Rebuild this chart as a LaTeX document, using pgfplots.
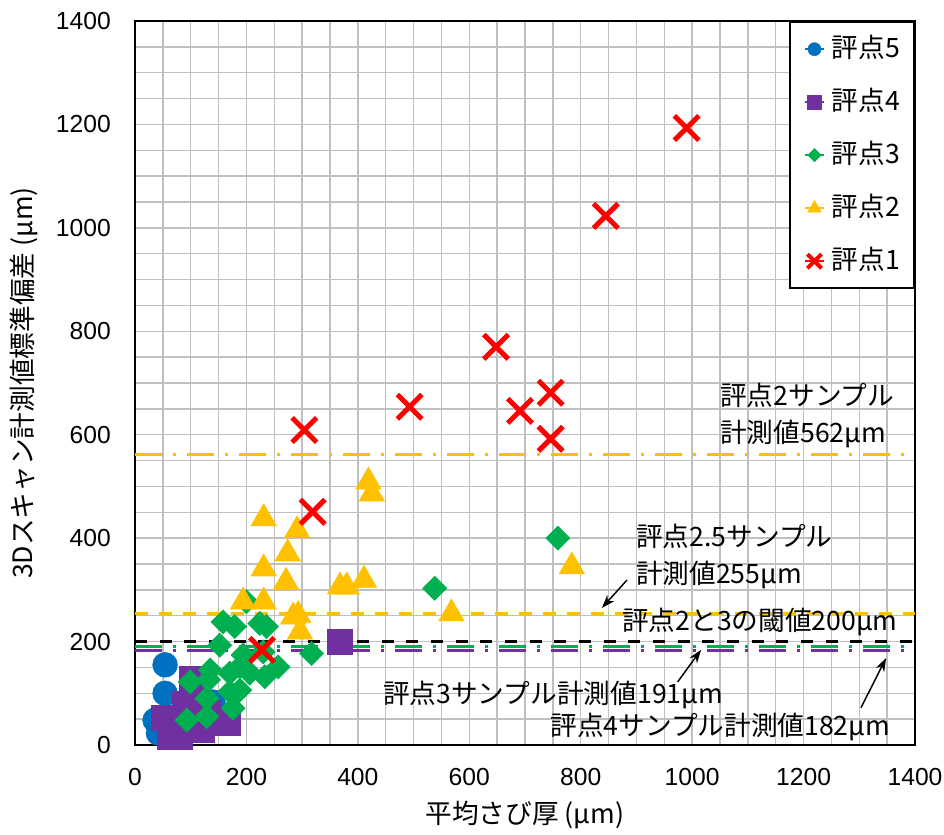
\documentclass[border=0pt]{standalone}
\usepackage{fontspec}
\setmainfont{Liberation Sans}
\newfontfamily\jp{Noto Sans CJK JP}
\usepackage{pgfplots}
\pgfplotsset{compat=1.18}
\usetikzlibrary{arrows.meta}
\definecolor{c5}{HTML}{0070C0}
\definecolor{c4}{HTML}{7030A0}
\definecolor{c3}{HTML}{00B050}
\definecolor{c2}{HTML}{FFC000}
\definecolor{c1}{HTML}{FF0000}
\definecolor{gridc}{HTML}{BFBFBF}
\begin{document}
\begin{tikzpicture}
\begin{axis}[name=ax, at={(0,0)}, anchor=south west, scale only axis,
  width=585pt, height=543pt,
  xmin=0, xmax=1400, ymin=0, ymax=1400,
  xtick={0,200,...,1400}, ytick={0,200,...,1400},
  minor tick num=3,
  grid=both,
  major grid style={gridc, line width=1.1pt},
  minor grid style={gridc, line width=1.1pt},
  major tick length=0pt, minor tick length=0pt,
  axis line style={black, line width=2.2pt},
  tick label style={font=\fontsize{18.5}{22}\selectfont},
  /pgf/number format/assume math mode=true,
  /pgf/number format/1000 sep={},
  xticklabel style={inner sep=0pt, anchor=north, yshift=-17pt},
  yticklabel style={inner sep=0pt, anchor=east, xshift=-18pt},
  xlabel={\jp 平均さび厚 (μm)},
  ylabel={\jp 3Dスキャン計測値標準偏差 (μm)},
  label style={font=\fontsize{20}{24}\selectfont},
  xlabel style={at={(axis description cs:0.5,-0.0967)}, anchor=center},
  ylabel style={at={(axis description cs:-0.1423,0.5)}, anchor=center},
  legend cell align=left,
  legend image code/.code={\path (0pt,0pt) -- (14pt,0pt); \draw[#1] plot coordinates {(7pt,0pt)};},
  legend style={at={(1,1)}, anchor=north east, draw=black, line width=1.8pt, fill=white,
    inner xsep=10.5pt, inner ysep=10.75pt, row sep=20.75pt,
    font=\jp\fontsize{20}{24}\selectfont,
    nodes={inner sep=0pt, text height=16pt, text depth=3pt},
    /tikz/every odd column/.append style={column sep=5pt}},
]
% reference lines
\addplot[forget plot, c2, line width=2.5pt, dash pattern=on 20pt off 8.5pt on 2pt off 8.5pt] coordinates {(0,562) (1400,562)};
\addplot[forget plot, c2, line width=2.4pt, dash pattern=on 10pt off 8pt] coordinates {(0,255) (1400,255)};
\addplot[forget plot, black, line width=2.2pt, dash pattern=on 9pt off 9.5pt] coordinates {(0,200) (1400,200)};
\addplot[forget plot, c3, line width=2.4pt, dash pattern=on 20pt off 8.5pt on 2pt off 8.5pt] coordinates {(0,191) (1400,191)};
\addplot[forget plot, c4, line width=2.4pt, dash pattern=on 20pt off 8.5pt on 2pt off 8.5pt] coordinates {(0,182) (1400,182)};
% score 5
\addplot[only marks, mark=*, mark size=9.3pt, color=c5, mark options={line width=0.4pt},
  legend image post style={mark size=4.9pt}] coordinates {
  (54,155) (54,100) (36,48) (42,23) (57,30) (63,54) (114,39) (165,45) (140,83) (90,70) (80,40)};
\addlegendentry{評点5}
% score 4
\addplot[only marks, mark=square*, mark size=9.3pt, color=c4, mark options={line width=0.4pt},
  legend image post style={mark size=5.4pt}] coordinates {
  (368,200) (102,129) (111,106) (51,52) (69,29) (81,16) (63,16) (111,52) (153,48) (167,42) (130,62) (90,80) (120,30)};
\addlegendentry{評点4}
% score 3
\addplot[only marks, mark=square*, mark size=6.4pt, color=c3, mark options={rotate=45, line width=0.4pt},
  legend image post style={mark size=3.5pt}] coordinates {
  (158,238) (179,229) (224,235) (236,229) (152,193) (317,177) (194,174) (230,180) (188,151) (257,151)
  (135,145) (233,132) (99,122) (132,126) (170,103) (188,106) (129,90) (176,71) (93,48) (129,55)
  (170,139) (206,139) (200,277) (538,303) (759,400)};
\addlegendentry{評点3}
% score 2
\addplot[only marks, mark=triangle*, mark size=11pt, color=c2, mark options={line width=0.4pt},
  legend image post style={mark size=5.8pt}] coordinates {
  (231,438) (291,415) (274,370) (231,341) (271,315) (231,277) (419,509) (425,486) (368,306) (380,306)
  (411,319) (568,254) (284,248) (293,251) (296,219) (194,277) (784,345)};
\addlegendentry{評点2}
% score 1
\addplot[only marks, mark=x, mark size=13pt, color=c1, mark options={line width=3.75pt},
  legend image post style={mark size=7.5pt, mark options={line width=3pt}}] coordinates {
  (990,1193) (845,1023) (648,770) (493,654) (691,646) (746,681) (746,592) (304,609) (319,451) (228,184)};
\addlegendentry{評点1}
% annotations
\node[anchor=west, align=left, inner sep=0pt, font=\jp\fontsize{20}{27.75}\selectfont] at (axis cs:1050,637) {評点2サンプル\\計測値562μm};
\node[anchor=west, align=left, inner sep=0pt, font=\jp\fontsize{20}{27.75}\selectfont] at (axis cs:899,364) {評点2.5サンプル\\計測値255μm};
\node[anchor=west, inner sep=0pt, font=\jp\fontsize{20}{24}\selectfont] at (axis cs:874,238) {評点2と3の閾値200μm};
\node[anchor=west, inner sep=0pt, font=\jp\fontsize{20}{24}\selectfont] at (axis cs:445,97) {評点3サンプル計測値191μm};
\node[anchor=west, inner sep=0pt, font=\jp\fontsize{20}{24}\selectfont] at (axis cs:745,35) {評点4サンプル計測値182μm};
\draw[line width=1.1pt, -{Stealth[length=10pt,width=7pt]}] (axis cs:883,319) -- (axis cs:838,265);
\draw[line width=1.1pt, -{Stealth[length=10pt,width=7pt]}] (axis cs:974,122) -- (axis cs:1016,184);
\draw[line width=1.1pt, -{Stealth[length=10pt,width=7pt]}] (axis cs:1303,72) -- (axis cs:1348,168);
\end{axis}
\pgfresetboundingbox
\path ([shift={(-101.25pt,-66.75pt)}]ax.south west) rectangle ([shift={(21.75pt,15.75pt)}]ax.north east);
\end{tikzpicture}
\end{document}
